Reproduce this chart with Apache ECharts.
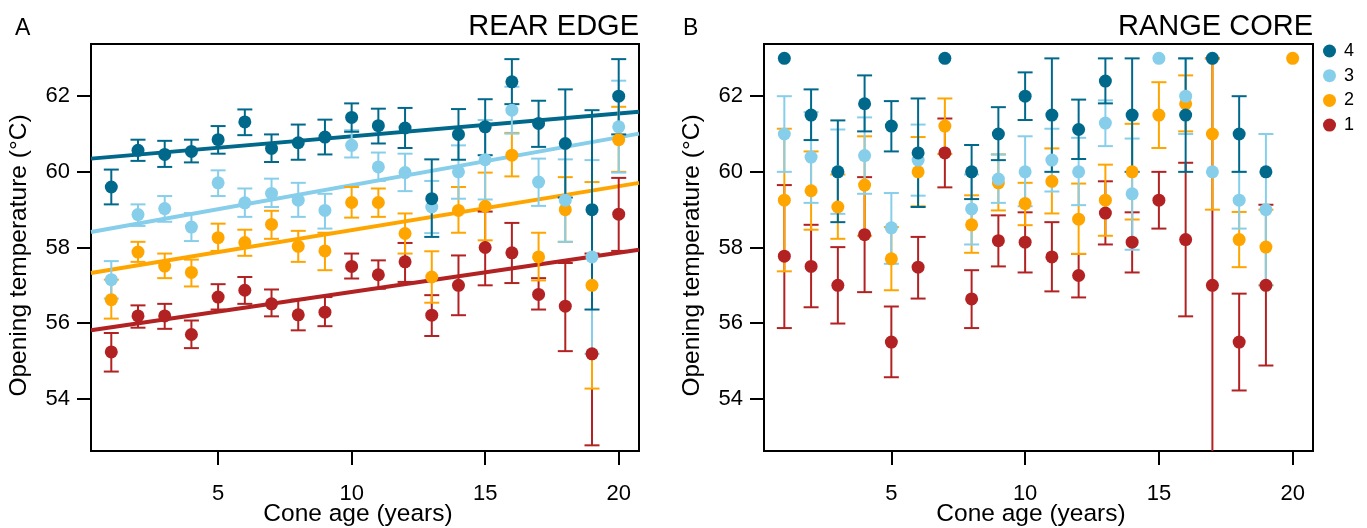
<!DOCTYPE html>
<html>
<head>
<meta charset="utf-8">
<script src="https://cdn.jsdelivr.net/npm/echarts@6/dist/echarts.min.js"></script>
<style>
html,body{margin:0;padding:0;background:#fff;}
#chart{width:1367px;height:528px;}
</style>
</head>
<body>
<div id="chart"></div>
<script>
// ---------- DATA ----------
const ages = [1,2,3,4,5,6,7,8,9,10,11,12,13,14,15,16,17,18,19,20];
const xTicks = [5,10,15,20];
const yTicks = [54,56,58,60,62];
const groupNames = ['4','3','2','1'];
const groupColors = ['#00688B','#87CEEB','#FFA500','#B22222'];
const panelTitles = ['REAR EDGE','RANGE CORE'];
const panelLetters = ['A','B'];
const xTitle = 'Cone age (years)';
const yTitle = 'Opening temperature (°C)';

// Panel A: REAR EDGE
const A4_mean = [59.60,60.57,60.46,60.54,60.85,61.32,60.62,60.77,60.92,61.44,61.22,61.16,59.29,60.99,61.19,62.38,61.28,60.75,59.00,62.00];
const A4_hi   = [60.06,60.85,60.82,60.85,61.21,61.65,60.99,61.25,61.38,61.81,61.67,61.69,60.33,61.66,61.92,62.98,61.88,62.18,61.63,62.98];
const A4_lo   = [59.14,60.29,60.13,60.25,60.48,60.97,60.26,60.32,60.46,61.06,60.75,60.63,58.28,60.32,60.44,61.79,60.66,59.32,56.36,60.99];

const A3_mean = [57.15,58.87,59.03,58.54,59.71,59.18,59.43,59.25,58.98,60.70,60.13,59.98,59.07,60.00,60.32,61.63,59.73,59.25,57.75,61.19];
const A3_hi   = [57.64,59.14,59.36,58.91,60.04,59.56,59.82,59.71,59.42,61.10,60.51,60.48,59.76,60.70,61.37,62.25,60.35,60.33,60.31,62.41];
const A3_lo   = [56.65,58.57,58.68,58.17,59.36,58.81,59.07,58.81,58.50,60.38,59.76,59.49,58.38,59.29,59.27,61.01,59.10,58.15,55.19,59.98];

const A2_mean = [56.62,57.88,57.51,57.34,58.26,58.13,58.61,58.03,57.91,59.19,59.19,58.37,57.22,58.98,59.09,60.44,57.75,59.00,57.00,60.85];
const A2_hi   = [57.15,58.15,57.84,57.68,58.63,58.47,58.97,58.44,58.39,59.60,59.56,58.90,57.90,59.60,59.98,61.03,58.39,59.86,59.73,61.72];
const A2_lo   = [56.12,57.62,57.19,56.97,57.91,57.78,58.23,57.62,57.40,58.79,58.81,57.84,56.54,58.39,58.19,59.88,57.13,58.15,54.27,60.00];

const A1_mean = [55.24,56.19,56.19,55.70,56.69,56.87,56.51,56.22,56.29,57.50,57.28,57.62,56.21,57.00,58.00,57.86,56.76,56.45,55.19,58.88];
const A1_hi   = [55.74,56.47,56.51,56.07,57.03,57.22,56.89,56.62,56.69,57.84,57.66,58.12,56.74,57.79,58.95,58.65,57.19,57.59,57.84,59.84];
const A1_lo   = [54.72,55.88,55.85,55.34,56.36,56.51,56.18,55.81,55.92,57.18,56.91,57.09,55.66,56.21,57.00,57.06,56.36,55.26,52.77,57.91];

// Panel A regression lines (intercept, slope) for groups 4,3,2,1
const A_intercepts = [60.335, 58.38, 57.30, 55.785];
const A_slopes     = [0.0604, 0.1267, 0.116, 0.1038];

// Panel B: RANGE CORE
const B4_mean = [63.0,61.50,60.00,61.80,61.21,60.50,63.0,60.00,61.00,62.00,61.50,61.12,62.40,61.50,null,61.50,63.0,61.00,60.00,null];
const B4_hi   = [null,62.18,61.36,62.55,61.87,61.94,null,60.71,61.71,62.63,63.0,61.91,63.0,63.0,null,63.0,null,62.0,null,null];
const B4_lo   = [null,60.84,58.67,61.07,60.54,59.07,null,59.28,60.31,61.37,60.0,60.34,61.81,60.0,null,60.0,null,60.0,null,null];

const B3_mean = [61.00,60.39,60.00,60.43,58.52,60.31,null,59.02,59.81,60.00,60.31,60.00,61.29,59.42,63.0,62.00,60.00,59.25,59.00,null];
const B3_hi   = [62.0,61.58,61.12,61.44,59.44,61.25,null,59.93,60.46,60.94,61.14,60.90,61.89,60.88,null,63.0,null,60.0,61.0,null];
const B3_lo   = [60.0,59.18,58.89,59.42,57.57,59.37,null,58.08,59.18,59.09,59.48,59.12,60.68,57.94,null,61.0,null,58.5,57.0,null];

const B2_mean = [59.25,59.50,59.07,59.65,57.70,60.00,61.21,58.60,59.71,59.16,59.75,58.75,59.25,60.00,61.50,61.80,61.00,58.21,58.01,63.0];
const B2_hi   = [61.14,60.54,59.93,60.94,58.54,60.92,61.94,59.38,60.46,59.71,60.62,59.69,60.19,61.27,62.37,62.55,63.0,58.94,59.0,null];
const B2_lo   = [57.37,58.47,58.23,58.31,56.87,59.09,60.47,57.86,58.98,58.59,58.90,57.83,58.31,58.74,60.63,61.07,59.0,57.48,57.0,null];

const B1_mean = [57.77,57.50,57.00,58.34,55.50,57.48,60.50,56.64,58.18,58.14,57.75,57.26,58.91,58.14,59.25,58.21,57.00,55.50,57.00,null];
const B1_hi   = [59.65,58.60,58.01,59.86,56.44,58.28,61.41,57.40,58.85,58.93,58.67,57.83,59.75,58.93,60.0,60.24,63.0,56.78,59.13,null];
const B1_lo   = [55.87,56.42,55.99,56.82,54.57,56.65,59.59,55.87,57.50,57.34,56.84,56.68,58.08,57.34,58.5,56.18,51.0,54.22,54.88,null];

// ---------- BUILD ----------
const X_MIN = 0.24, X_MAX = 20.76, Y_MIN = 52.62, Y_MAX = 63.38;
const FONT = '"Liberation Sans", Arial, Helvetica, sans-serif';
const GRIDS = [{left:91, top:44, width:548, height:407}, {left:764, top:44, width:549, height:407}];
const LETTER_X = [15, 683];

const panelA = [[A4_mean,A4_lo,A4_hi],[A3_mean,A3_lo,A3_hi],[A2_mean,A2_lo,A2_hi],[A1_mean,A1_lo,A1_hi]];
const panelB = [[B4_mean,B4_lo,B4_hi],[B3_mean,B3_lo,B3_hi],[B2_mean,B2_lo,B2_hi],[B1_mean,B1_lo,B1_hi]];

function makeErrRender(color){
  return function(params, api){
    const x = api.value(0), lo = api.value(1), hi = api.value(2);
    const cLo = Math.max(lo, Y_MIN), cHi = Math.min(hi, Y_MAX);
    const p1 = api.coord([x, cLo]), p2 = api.coord([x, cHi]);
    const st = {stroke: color, lineWidth: 2};
    const ch = [{type:'line', shape:{x1:p1[0],y1:p1[1],x2:p2[0],y2:p2[1]}, style: st}];
    const hw = 7.5;
    if (lo >= Y_MIN) ch.push({type:'line', shape:{x1:p1[0]-hw,y1:p1[1],x2:p1[0]+hw,y2:p1[1]}, style: st});
    if (hi <= Y_MAX) ch.push({type:'line', shape:{x1:p2[0]-hw,y1:p2[1],x2:p2[0]+hw,y2:p2[1]}, style: st});
    return {type:'group', children: ch};
  };
}

const series = [];
function addPanel(panel, idx){
  for (let g = 3; g >= 0; g--){
    const [mean, lo, hi] = panel[g];
    const color = groupColors[g];
    const pts = [], errs = [];
    ages.forEach((a,i)=>{
      if (mean[i] != null) pts.push([a, mean[i]]);
      if (lo[i] != null && hi[i] != null) errs.push([a, lo[i], hi[i]]);
    });
    series.push({
      name: groupNames[g], type:'scatter', xAxisIndex: idx, yAxisIndex: idx,
      data: pts, symbol:'circle', symbolSize: 13, itemStyle:{color: color, opacity:1},
      z: 3, animation:false, silent:true
    });
    series.push({
      type:'custom', xAxisIndex: idx, yAxisIndex: idx, data: errs,
      encode:{x:0, y:[1,2]}, renderItem: makeErrRender(color), z: 3,
      animation:false, silent:true
    });
  }
}
for (let g = 3; g >= 0; g--){
  const a = A_intercepts[g], b = A_slopes[g];
  series.push({
    type:'line', xAxisIndex:0, yAxisIndex:0,
    data: [[X_MIN, a + b*X_MIN],[X_MAX, a + b*X_MAX]],
    showSymbol:false, lineStyle:{color: groupColors[g], width:4}, z:2,
    animation:false, silent:true
  });
}
addPanel(panelA, 0);
addPanel(panelB, 1);

function xAxisCfg(idx){
  return {
    type:'value', gridIndex: idx, min: X_MIN, max: X_MAX,
    axisLine:{show:false},
    axisTick:{show:true, inside:false, length:14, customValues: xTicks, lineStyle:{color:'#000', width:2}},
    axisLabel:{show:true, margin: 32, customValues: xTicks, fontFamily: FONT, fontSize: 22, color:'#000'},
    splitLine:{show:false}
  };
}
function yAxisCfg(idx){
  return {
    type:'value', gridIndex: idx, min: Y_MIN, max: Y_MAX,
    axisLine:{show:false},
    axisTick:{show:true, inside:false, length:14, customValues: yTicks, lineStyle:{color:'#000', width:2}},
    axisLabel:{show:true, margin: 21, customValues: yTicks, fontFamily: FONT, fontSize: 22, color:'#000'},
    splitLine:{show:false}
  };
}

const graphics = [];
GRIDS.forEach((g, i) => {
  const dx = g.left - 91;
  graphics.push({type:'text', x: LETTER_X[i], y: 28.5, style:{text: panelLetters[i], font:'23px ' + FONT, fill:'#000', textAlign:'left', textVerticalAlign:'middle'}});
  graphics.push({type:'text', x: g.left + g.width, y: 26.5, style:{text: panelTitles[i], font:'29px ' + FONT, fill:'#000', textAlign:'right', textVerticalAlign:'middle'}});
  graphics.push({type:'text', x: 358 + dx, y: 514, style:{text: xTitle, font:'24.5px ' + FONT, fill:'#000', textAlign:'center', textVerticalAlign:'middle'}});
  graphics.push({type:'text', x: 19.5 + dx, y: 255.5, rotation: Math.PI/2, style:{text: yTitle, font:'24.5px ' + FONT, fill:'#000', textAlign:'center', textVerticalAlign:'middle'}});
});

const option = {
  backgroundColor:'#fff',
  animation:false,
  grid: GRIDS.map(g => Object.assign({show:true, borderColor:'#000', borderWidth:2, backgroundColor:'transparent'}, g)),
  xAxis:[xAxisCfg(0), xAxisCfg(1)],
  yAxis:[yAxisCfg(0), yAxisCfg(1)],
  legend:{
    data: groupNames, orient:'vertical', left: 1323, top: 42,
    icon:'circle', itemWidth:13, itemHeight:13, itemGap: 6.7, padding: 0,
    selectedMode:false,
    textStyle:{fontFamily: FONT, fontSize: 18, color:'#000', padding:[0,0,0,3]}
  },
  graphic: graphics,
  series: series
};

const chart = echarts.init(document.getElementById('chart'), null, {renderer:'canvas'});
chart.setOption(option);
</script>
</body>
</html>
